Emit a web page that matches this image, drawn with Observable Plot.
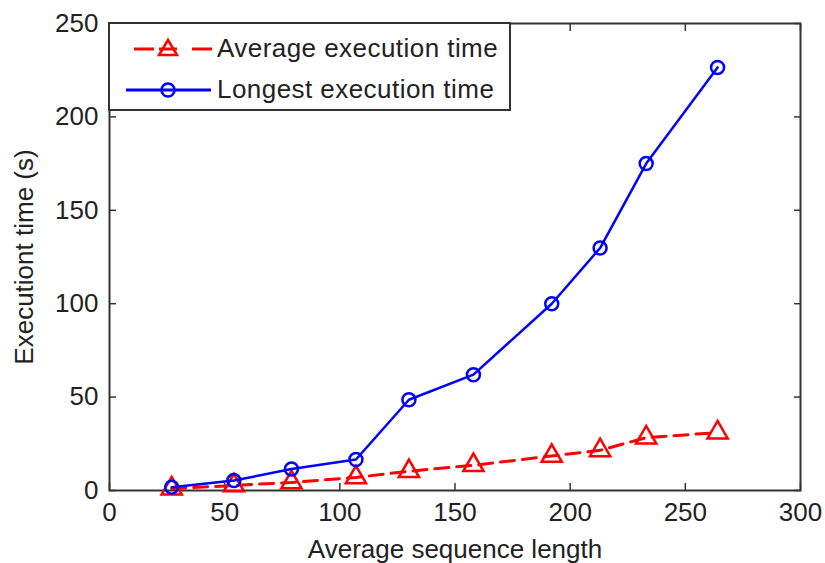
<!DOCTYPE html>
<html>
<head>
<meta charset="utf-8">
<script src="https://cdn.jsdelivr.net/npm/d3@7"></script>
<script src="https://cdn.jsdelivr.net/npm/@observablehq/plot@0.6"></script>
<style>
  html, body { margin: 0; padding: 0; background: #fff; }
  #wrap { position: relative; width: 825px; height: 563px; overflow: hidden; }
  #legend {
    position: absolute; left: 108px; top: 22px; width: 403px; height: 89px;
    border: 2px solid #333; background: #fff; box-sizing: border-box;
    font-family: "Liberation Sans", Arial, sans-serif; font-size: 26px; color: #222;
  }
  #legend svg { position: absolute; left: 0; top: 0; }
  #legend .t { position: absolute; left: 107px; line-height: 30px; white-space: nowrap; letter-spacing: 0.45px; }
</style>
</head>
<body>
<div id="wrap"></div>
<script>
// ---- data ----
const seqLength = [27, 54, 79, 107, 130, 158, 192, 213, 233, 264];
const averageTime = [1, 2.7, 4.3, 7, 10.3, 13.5, 18.5, 21.5, 28.3, 31];
const longestTime = [1.8, 5.3, 11.5, 16.6, 48.6, 62, 100, 129.8, 175, 226.5];
const xTicks = [0, 50, 100, 150, 200, 250, 300];
const yTicks = [0, 50, 100, 150, 200, 250];
const seriesNames = ["Average execution time", "Longest execution time"];
const seriesColors = ["#ff0000", "#0000ff"];

const avgData = seqLength.map((x, i) => ({x, y: averageTime[i]}));
const longData = seqLength.map((x, i) => ({x, y: longestTime[i]}));

const axisColor = "#333";
const textColor = "#222";

const chart = Plot.plot({
  width: 825,
  height: 563,
  marginLeft: 109,
  marginRight: 25,
  marginTop: 23,
  marginBottom: 73,
  style: {fontFamily: "'Liberation Sans', Arial, sans-serif", fontSize: "26px", color: textColor, background: "#fff"},
  x: {domain: [0, 300]},
  y: {domain: [0, 250]},
  marks: [
    Plot.frame({stroke: axisColor, strokeWidth: 2}),
    Plot.axisX(xTicks, {anchor: "bottom", tickSize: -7, tickPadding: 19, stroke: axisColor, strokeWidth: 1.5, fill: textColor,
      label: "Average sequence length", labelAnchor: "center", labelOffset: 67, labelArrow: "none"}),
    Plot.axisX(xTicks, {anchor: "top", tickSize: -7, tickFormat: () => "", stroke: axisColor, strokeWidth: 1.5, label: null}),
    Plot.axisY(yTicks, {anchor: "left", tickSize: -7, tickPadding: 18, stroke: axisColor, strokeWidth: 1.5, fill: textColor,
      label: "Executiont time (s)", labelAnchor: "center", labelOffset: 95, labelArrow: "none"}),
    Plot.axisY(yTicks, {anchor: "right", tickSize: -7, tickFormat: () => "", stroke: axisColor, strokeWidth: 1.5, label: null}),
    Plot.line(avgData, {x: "x", y: "y", stroke: seriesColors[0], strokeWidth: 3, strokeDasharray: "14,8"}),
    Plot.dot(avgData, {x: "x", y: "y", symbol: "triangle", r: 7.5, stroke: seriesColors[0], strokeWidth: 2.5, fill: "none"}),
    Plot.line(longData, {x: "x", y: "y", stroke: seriesColors[1], strokeWidth: 2.5}),
    Plot.dot(longData, {x: "x", y: "y", symbol: "circle", r: 6.5, stroke: seriesColors[1], strokeWidth: 2.5, fill: "none"})
  ]
});

const wrap = document.getElementById("wrap");
wrap.appendChild(chart);

// legend overlay
const legend = document.createElement("div");
legend.id = "legend";
const rowsY = [25, 66];
let svg = `<svg width="110" height="88" xmlns="http://www.w3.org/2000/svg">`;
// average: dashed line with triangle
svg += `<line x1="24" x2="44" y1="${rowsY[0]}" y2="${rowsY[0]}" stroke="${seriesColors[0]}" stroke-width="3"/>`;
svg += `<line x1="82" x2="102" y1="${rowsY[0]}" y2="${rowsY[0]}" stroke="${seriesColors[0]}" stroke-width="3"/>`;
svg += `<path d="M58,${rowsY[0]-9} L67,${rowsY[0]+6} L49,${rowsY[0]+6} Z" fill="#fff" stroke="${seriesColors[0]}" stroke-width="2.5"/>`;
svg += `<line x1="49" x2="67" y1="${rowsY[0]}" y2="${rowsY[0]}" stroke="${seriesColors[0]}" stroke-width="3"/>`;
svg += `<line x1="16" x2="101" y1="${rowsY[1]}" y2="${rowsY[1]}" stroke="${seriesColors[1]}" stroke-width="3"/>`;
svg += `<circle cx="58" cy="${rowsY[1]}" r="6.5" fill="none" stroke="${seriesColors[1]}" stroke-width="2.5"/>`;
svg += `</svg>`;
legend.innerHTML = svg + seriesNames.map((n, i) => `<div class="t" style="top:${rowsY[i] - 16}px">${n}</div>`).join("");
wrap.appendChild(legend);
</script>
</body>
</html>
